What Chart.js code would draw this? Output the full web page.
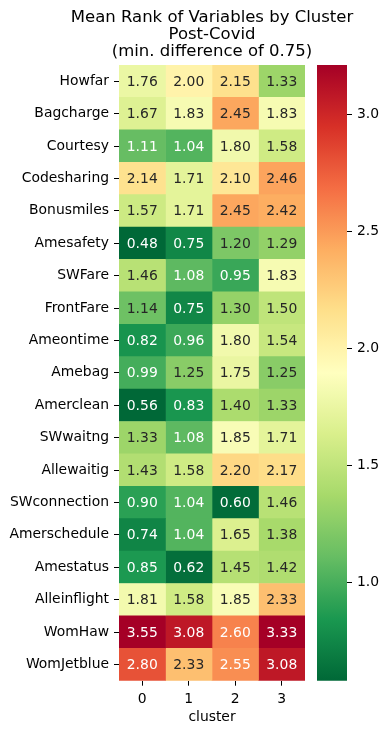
<!DOCTYPE html>
<html><head><meta charset="utf-8">
<script src="https://cdn.jsdelivr.net/npm/chart.js@4.4.1/dist/chart.umd.min.js"></script>
<style>
html,body{margin:0;padding:0;background:#fff;}
#wrap{position:relative;width:389px;height:734px;overflow:hidden;}
#main{position:absolute;left:0;top:0;}
#cbar{position:absolute;left:300px;top:0;}
</style></head><body>
<div id="wrap"><canvas id="main" width="389" height="734"></canvas><canvas id="cbar" width="89" height="734"></canvas></div>
<script>
// ---- data ----
const titleLines = ['Mean Rank of Variables by Cluster', 'Post-Covid', '(min. difference of 0.75)'];
const variables = ['Howfar','Bagcharge','Courtesy','Codesharing','Bonusmiles','Amesafety','SWFare','FrontFare','Ameontime','Amebag','Amerclean','SWwaitng','Allewaitig','SWconnection','Amerschedule','Amestatus','Alleinflight','WomHaw','WomJetblue'];
const clusters = ['0','1','2','3'];
const cluster0 = [1.76,1.67,1.11,2.14,1.57,0.48,1.46,1.14,0.82,0.99,0.56,1.33,1.43,0.90,0.74,0.85,1.81,3.55,2.80];
const cluster1 = [2.00,1.83,1.04,1.71,1.71,0.75,1.08,0.75,0.96,1.25,0.83,1.08,1.58,1.04,1.04,0.62,1.58,3.08,2.33];
const cluster2 = [2.15,2.45,1.80,2.10,2.45,1.20,0.95,1.30,1.80,1.75,1.40,1.85,2.20,0.60,1.65,1.45,1.85,2.60,2.55];
const cluster3 = [1.33,1.83,1.58,2.46,2.42,1.29,1.83,1.50,1.54,1.25,1.33,1.71,2.17,1.46,1.38,1.42,2.33,3.33,3.08];
const colorbarTicks = [1.0, 1.5, 2.0, 2.5, 3.0];
const VMIN = 0.58, VMAX = 3.21;
const seriesValues = [cluster0, cluster1, cluster2, cluster3];

// ---- colormap RdYlGn_r ----
const anchors = ['#006837','#1a9850','#66bd63','#a6d96a','#d9ef8b','#ffffbf','#fee08b','#fdae61','#f46d43','#d73027','#a50026']
  .map(h => [parseInt(h.slice(1,3),16), parseInt(h.slice(3,5),16), parseInt(h.slice(5,7),16)]);
function cmapRGB(t){
  t = Math.max(0, Math.min(1, t));
  const p = t * (anchors.length - 1);
  const i = Math.min(anchors.length - 2, Math.floor(p));
  const f = p - i;
  return anchors[i].map((c, k) => c + (anchors[i+1][k] - c) * f);
}
function rgbStr(c){ return 'rgb(' + c.map(v => Math.round(v)).join(',') + ')'; }
function norm(v){ return (v - VMIN) / (VMAX - VMIN); }
function colorFor(v){ return rgbStr(cmapRGB(norm(v))); }
function textColorFor(v){
  const c = cmapRGB(norm(v)).map(x => x / 255).map(x => x <= 0.03928 ? x / 12.92 : Math.pow((x + 0.055) / 1.055, 2.4));
  const lum = 0.2126 * c[0] + 0.7152 * c[1] + 0.0722 * c[2];
  return lum > 0.408 ? '#262626' : '#ffffff';
}

const FAMILY = '"DejaVu Sans", sans-serif';
const FS = 13.9;
const tickFont = {family: FAMILY, size: FS};

const annotPlugin = {
  id: 'annot',
  afterDatasetsDraw(chart){
    const ctx = chart.ctx;
    ctx.save();
    ctx.font = FS + 'px ' + FAMILY;
    ctx.textAlign = 'center';
    ctx.textBaseline = 'middle';
    chart.data.datasets.forEach((ds, di) => {
      const meta = chart.getDatasetMeta(di);
      meta.data.forEach((el, i) => {
        const v = seriesValues[di][i];
        const p = el.getCenterPoint();
        ctx.fillStyle = textColorFor(v);
        ctx.fillText(v.toFixed(2), p.x, p.y + 1);
      });
    });
    ctx.restore();
  }
};

const titlePlugin = {
  id: 'axTitle',
  afterDraw(chart){
    const ctx = chart.ctx, a = chart.chartArea;
    ctx.save();
    ctx.font = '16.5px ' + FAMILY;
    ctx.fillStyle = '#000';
    ctx.textAlign = 'center';
    ctx.textBaseline = 'middle';
    const cx = (a.left + a.right) / 2;
    titleLines.forEach((t, i) => ctx.fillText(t, cx, a.top - 47.5 + i * 17));
    ctx.restore();
  }
};

new Chart(document.getElementById('main'), {
  type: 'bar',
  data: {
    labels: variables,
    datasets: seriesValues.map((vals, c) => ({
      label: clusters[c],
      data: vals.map(() => [c - 0.5, c + 0.5]),
      backgroundColor: vals.map(colorFor),
      borderWidth: 0,
      grouped: false,
      barPercentage: 1,
      categoryPercentage: 1
    }))
  },
  options: {
    responsive: false,
    animation: false,
    devicePixelRatio: 1,
    indexAxis: 'y',
    layout: {padding: {left: 0, right: 84, top: 65, bottom: 0}},
    plugins: {
      legend: {display: false},
      tooltip: {enabled: false},
      title: {display: false}
    },
    scales: {
      x: {
        type: 'linear', min: -0.5, max: 3.5,
        afterBuildTicks: s => { s.ticks = clusters.map((_, i) => ({value: i})); },
        ticks: {callback: v => clusters[v], color: '#000', font: tickFont, padding: 5, autoSkip: false, maxRotation: 0},
        grid: {drawOnChartArea: false, tickLength: 5, tickColor: '#000', offset: false},
        border: {display: false},
        title: {display: true, text: 'cluster', color: '#000', font: tickFont, padding: {top: 0, bottom: 8}},
        afterFit: s => { s.height = 53.3; }
      },
      y: {
        type: 'category',
        ticks: {color: '#000', font: tickFont, padding: 5, autoSkip: false},
        grid: {drawOnChartArea: false, tickLength: 5, tickColor: '#000', offset: false},
        border: {display: false},
        afterFit: s => { s.width = 119; }
      }
    }
  },
  plugins: [annotPlugin, titlePlugin]
});

new Chart(document.getElementById('cbar'), {
  type: 'bar',
  data: {
    labels: [''],
    datasets: [{
      data: [[VMIN, VMAX]],
      backgroundColor: ctx => {
        const a = ctx.chart.chartArea;
        if (!a) return '#ccc';
        const g = ctx.chart.ctx.createLinearGradient(0, a.bottom, 0, a.top);
        for (let i = 0; i <= 60; i++) { g.addColorStop(i / 60, rgbStr(cmapRGB(i / 60))); }
        return g;
      },
      borderWidth: 0,
      barPercentage: 1,
      categoryPercentage: 1
    }]
  },
  options: {
    responsive: false,
    animation: false,
    devicePixelRatio: 1,
    layout: {padding: {left: 17, top: 65, bottom: 53.3, right: 0}},
    plugins: {legend: {display: false}, tooltip: {enabled: false}},
    scales: {
      x: {display: false},
      y: {
        position: 'right', min: VMIN, max: VMAX,
        afterBuildTicks: s => { s.ticks = colorbarTicks.map(v => ({value: v})); },
        ticks: {callback: v => Number(v).toFixed(1), color: '#000', font: tickFont, padding: 5},
        grid: {drawOnChartArea: false, tickLength: 5, tickColor: '#000'},
        border: {display: false},
        afterFit: s => { s.width = 42; }
      }
    }
  }
});
</script>
</body></html>
